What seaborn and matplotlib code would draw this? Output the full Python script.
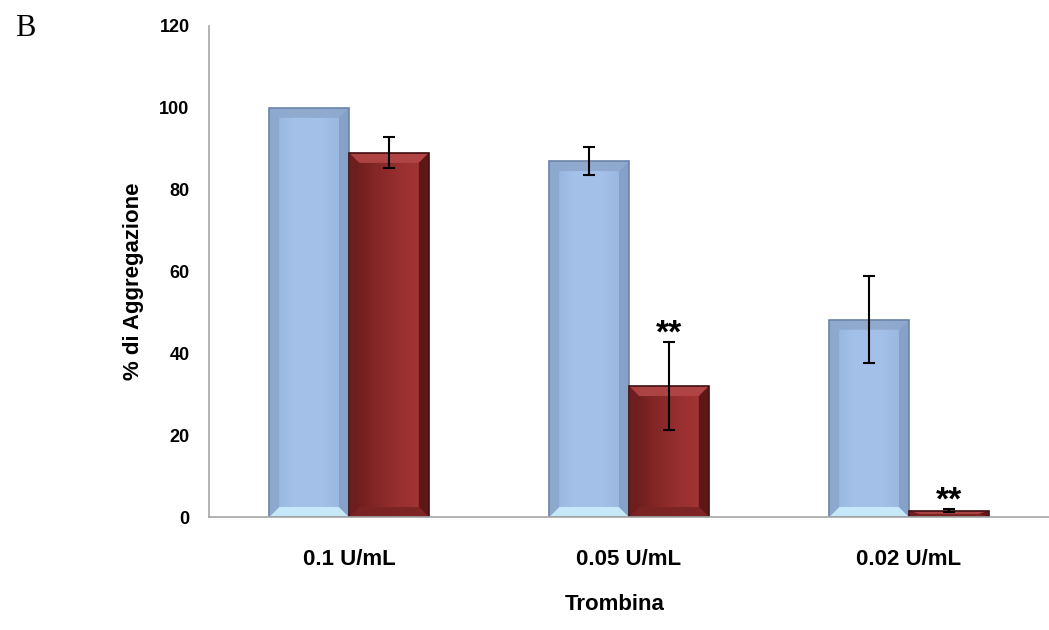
import numpy as np
import pandas as pd
import matplotlib
matplotlib.use("Agg")
import matplotlib.pyplot as plt
import seaborn as sns
from matplotlib.patches import Polygon
from matplotlib.colors import LinearSegmentedColormap

# Platelet aggregation (%) at three thrombin doses
categories = ["0.1 U/mL", "0.05 U/mL", "0.02 U/mL"]
groups = ["Controllo", "Trattato"]
control_mean = [100.0, 87.0, 48.2]
control_err = [0.0, 3.4, 10.6]
treated_mean = [89.0, 32.0, 1.5]
treated_err = [3.8, 10.7, 0.4]
significance = ["", "**", "**"]
y_ticks = [0, 20, 40, 60, 80, 100, 120]

sns.set_style("white")
plt.rcParams["font.family"] = ["Liberation Sans", "DejaVu Sans"]
plt.rcParams["text.color"] = "black"
plt.rcParams["axes.labelcolor"] = "black"

GRAY = "#A6A6A6"
styles = {
    "Controllo": dict(
        grad=["#93B2DB", "#A4C2E9", "#A2C0E8", "#94B2DA"],
        top="#8EA8CC", bottom="#CBEEFC", left="#8DA7CC", right="#849FC6",
        edge="#6C85A9",
    ),
    "Trattato": dict(
        grad=["#661A1A", "#842727", "#9A3030", "#A73737"],
        top="#B34747", bottom="#7A2424", left="#6E1F1F", right="#561414",
        edge="#401010",
    ),
}

df = pd.DataFrame({
    "Trombina": categories * 2,
    "gruppo": [groups[0]] * len(categories) + [groups[1]] * len(categories),
    "valore": control_mean + treated_mean,
})

fig = plt.figure(figsize=(10.49, 6.30), dpi=100)
ax = fig.add_axes([209 / 1049, 113 / 630, 840 / 1049, 491 / 630])

sns.barplot(
    data=df, x="Trombina", y="valore", hue="gruppo",
    order=categories, hue_order=groups,
    palette=[styles[g]["grad"][1] for g in groups],
    width=0.57, gap=0, saturation=1, errorbar=None, legend=False,
    linewidth=0, ax=ax, zorder=2,
)

XLIM, YLIM = (-0.5, 2.5), (0, 120)
ax.set_xlim(*XLIM)
ax.set_ylim(*YLIM)

# data units per pixel, for the bevelled frame of each bar
p0 = ax.transData.transform((0, 0))
p1 = ax.transData.transform((1, 1))
dx_px, dy_px = 1 / (p1[0] - p0[0]), 1 / (p1[1] - p0[1])
BEVEL = 10


def bevel_bar(bar, st):
    x0, y0 = bar.get_x(), bar.get_y()
    w, h = bar.get_width(), bar.get_height()
    x1, y1 = x0 + w, y0 + h
    bx = min(BEVEL * dx_px, w / 2)
    by = min(BEVEL * dy_px, h / 2)
    cmap = LinearSegmentedColormap.from_list("face", st["grad"])
    grad = np.linspace(0, 1, 256)[None, :]
    im = ax.imshow(grad, extent=(x0, x1, y0, y1), aspect="auto", cmap=cmap,
                   origin="lower", interpolation="bilinear", zorder=2.1)
    im.set_clip_path(bar)
    o = [(x0, y0), (x1, y0), (x1, y1), (x0, y1)]
    i = [(x0 + bx, y0 + by), (x1 - bx, y0 + by), (x1 - bx, y1 - by), (x0 + bx, y1 - by)]
    faces = [
        ([o[3], o[2], i[2], i[3]], st["top"]),
        ([o[0], o[1], i[1], i[0]], st["bottom"]),
        ([o[0], o[3], i[3], i[0]], st["left"]),
        ([o[1], o[2], i[2], i[1]], st["right"]),
    ]
    for pts, col in faces:
        ax.add_patch(Polygon(pts, closed=True, facecolor=col, edgecolor="none",
                             alpha=0.9, zorder=2.2))
    bar.set_facecolor("none")
    bar.set_edgecolor(st["edge"])
    bar.set_linewidth(1.2)
    bar.set_zorder(2.4)


for g, container in zip(groups, ax.containers):
    for bar in container:
        bevel_bar(bar, styles[g])

# error bars and significance marks
for g, container, means, errs in zip(groups, ax.containers,
                                     [control_mean, treated_mean],
                                     [control_err, treated_err]):
    for k, bar in enumerate(container):
        xc = bar.get_x() + bar.get_width() / 2
        if errs[k] > 0:
            ax.errorbar(xc, means[k], yerr=errs[k], fmt="none", ecolor="black",
                        elinewidth=1.5, capsize=4, capthick=1.5, zorder=3)
        if g == groups[1] and significance[k]:
            ax.annotate(significance[k], xy=(xc, means[k] + errs[k]),
                        xytext=(0, 0), textcoords="offset points",
                        ha="center", va="baseline", fontsize=24,
                        fontweight="bold", color="black", zorder=4)

ax.set_xlim(*XLIM)
ax.set_ylim(*YLIM)

# axes styling
for s in ["top", "right"]:
    ax.spines[s].set_visible(False)
for s in ["left", "bottom"]:
    ax.spines[s].set_color(GRAY)
    ax.spines[s].set_linewidth(1.2)

ax.set_yticks(y_ticks)
ax.set_yticklabels([str(t) for t in y_ticks], fontsize=13, fontweight="bold")
ax.tick_params(axis="y", length=7, width=1, color=GRAY, labelcolor="black",
               direction="out", pad=7)

ax.set_xticks(range(len(categories)))
ax.set_xticklabels(categories, fontsize=16, fontweight="bold")
ax.set_xticks([0.5, 1.5], minor=True)
ax.tick_params(axis="x", which="major", length=0, pad=23, labelcolor="black")
ax.tick_params(axis="x", which="minor", length=7, width=1, color=GRAY, direction="out")

ax.set_xlabel("Trombina", fontsize=16, fontweight="bold")
ax.xaxis.set_label_coords(0.483, -0.179)
ax.xaxis.label.set_va("center")
ax.set_ylabel("% di Aggregazione", fontsize=16, fontweight="bold")
ax.yaxis.set_label_coords(-0.09, 0.48)
ax.yaxis.label.set_va("center")

fig.text(15 / 1049, 1 - 29 / 630, "B", fontsize=22, family="Liberation Serif",
         ha="left", va="center", color="black")

fig.savefig("out.png", dpi=100)
